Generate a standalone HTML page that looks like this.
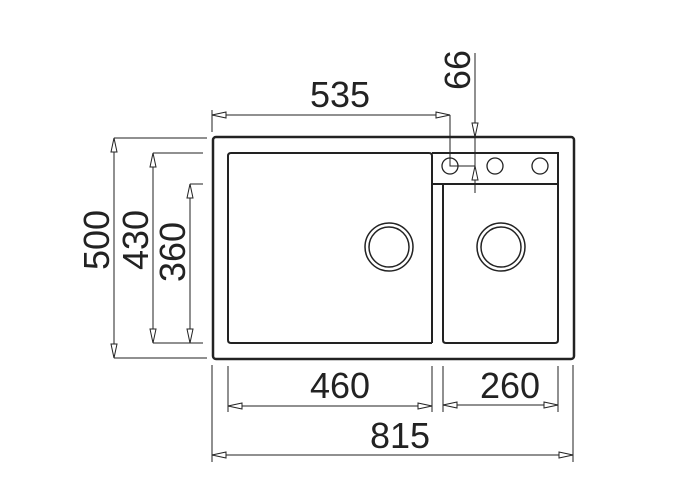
<!DOCTYPE html>
<html><head><style>body{margin:0;background:#fff}</style></head><body>
<svg width="683" height="494" xmlns="http://www.w3.org/2000/svg" font-family="Liberation Sans, sans-serif">
<g fill="none" stroke="#222">
<rect x="213" y="137" width="361" height="222" rx="3" stroke-width="2.5"/>
<path d="M432 343 V156 Q432 153 429 153 H231 Q228 153 228 156 V340 Q228 343 231 343 H432" stroke-width="2"/>
<path d="M432 153 H558 V340 Q558 343 555 343 H446 Q443 343 443 340 V184 M432 184 H558" stroke-width="2"/>
<circle cx="389" cy="247" r="24" stroke-width="1.5"/><circle cx="389" cy="247" r="20" stroke-width="1.5"/>
<circle cx="501" cy="247" r="24" stroke-width="1.5"/><circle cx="501" cy="247" r="20" stroke-width="1.5"/>
<circle cx="450" cy="166" r="8" stroke-width="1.3"/><circle cx="495" cy="166" r="8" stroke-width="1.3"/><circle cx="540" cy="166" r="8" stroke-width="1.3"/>
<g stroke-width="1">
<path d="M212 115 H450 M212 110 V132 M450 115 V166 H475 M475 53 V193"/>
<path d="M114 138 H207 M114 138 V358 M114 358 H207"/>
<path d="M153 153 H203 M153 153 V343 M153 343 H203"/>
<path d="M190 184 H203 M190 184 V343"/>
<path d="M212 365 V462 M573 365 V462 M212 455 H573"/>
<path d="M228 366 V412 M432 366 V412 M228 406 H432"/>
<path d="M443 366 V412 M558 366 V412 M443 405 H558"/>
</g>
</g>
<g fill="#fff" stroke="#222" stroke-width="1">
<path d="M212 115 l14 -3 v6z"/><path d="M450 115 l-14 -3 v6z"/>
<path d="M475 137 l-3 -14 h6z"/><path d="M475 166 l-3 14 h6z"/>
<path d="M114 138 l-3 14 h6z"/><path d="M114 358 l-3 -14 h6z"/>
<path d="M153 153 l-3 14 h6z"/><path d="M153 343 l-3 -14 h6z"/>
<path d="M190 184 l-3 14 h6z"/><path d="M190 343 l-3 -14 h6z"/>
<path d="M212 455 l14 -3 v6z"/><path d="M573 455 l-14 -3 v6z"/>
<path d="M228 406 l14 -3 v6z"/><path d="M432 406 l-14 -3 v6z"/>
<path d="M443 405 l14 -3 v6z"/><path d="M558 405 l-14 -3 v6z"/>
</g>
<g fill="#222" font-size="36" text-anchor="middle">
<text x="340" y="107">535</text>
<text x="340" y="398">460</text>
<text x="510" y="398">260</text>
<text x="400" y="448">815</text>
<text transform="translate(470,70) rotate(-90)">66</text>
<text transform="translate(109,240) rotate(-90)">500</text>
<text transform="translate(148,240) rotate(-90)">430</text>
<text transform="translate(185,252) rotate(-90)">360</text>
</g>
</svg>
</body></html>
